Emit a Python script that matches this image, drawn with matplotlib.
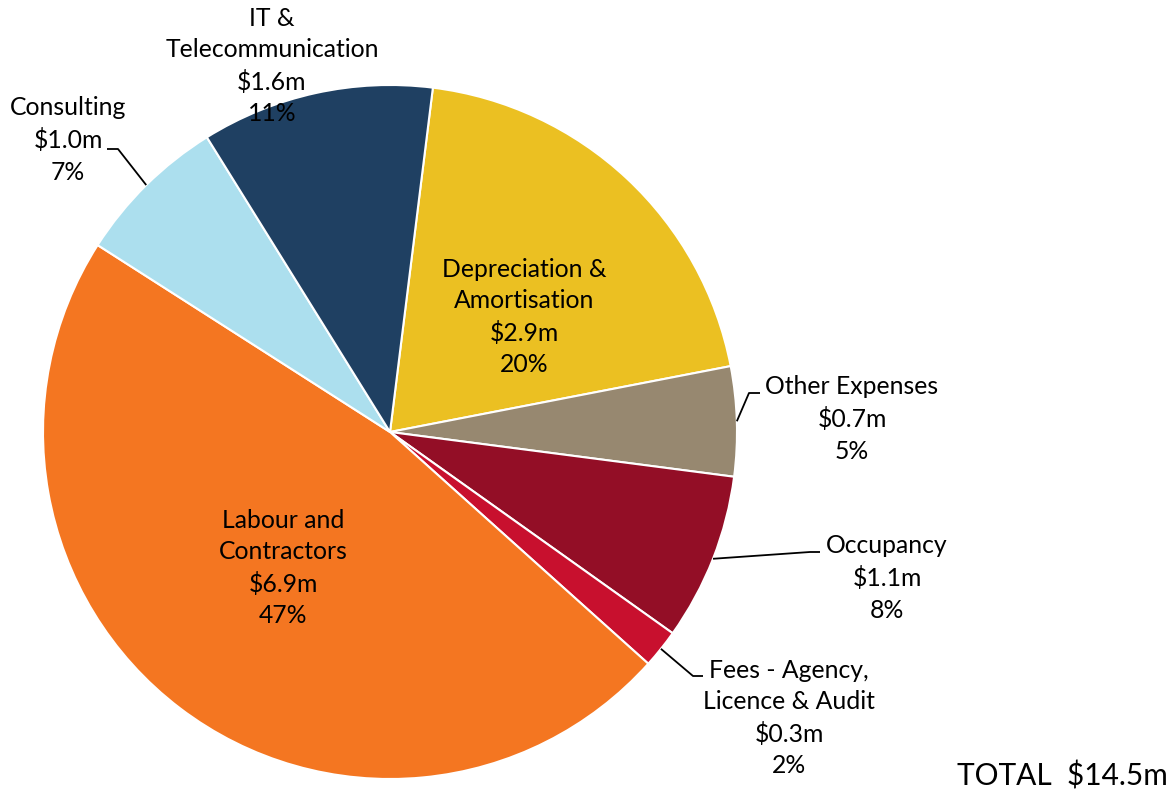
import matplotlib.pyplot as plt
import numpy as np

# expense categories, clockwise from the top
categories = ["Depreciation &\nAmortisation", "Other Expenses", "Occupancy",
              "Fees - Agency,\nLicence & Audit", "Labour and\nContractors",
              "Consulting", "IT &\nTelecommunication"]
values = [2.90, 0.74, 1.13, 0.26, 6.88, 1.03, 1.57]  # $m
amount_labels = ["$2.9m", "$0.7m", "$1.1m", "$0.3m", "$6.9m", "$1.0m", "$1.6m"]
pct_labels = ["20%", "5%", "8%", "2%", "47%", "7%", "11%"]
total_label = "TOTAL  $14.5m"

colors = ["#EBC022", "#978870", "#930E26", "#C8102E", "#F47621",
          "#ACDFEE", "#1F4062"]

W, H = 1172, 792
FONT = "Lato"
FS = 17.8


def py(y):
    # pixel row (from top) -> data y
    return H - y


fig = plt.figure(figsize=(W / 100, H / 100), dpi=100)
ax = fig.add_axes([0, 0, 1, 1])

cx, cy, r = 390, py(432), 347
wedges, _ = ax.pie(values, colors=colors, startangle=82.9, counterclock=False,
                   center=(cx, cy), radius=r, frame=True,
                   wedgeprops=dict(edgecolor="white", linewidth=1.5))
ax.set_xlim(0, W)
ax.set_ylim(0, H)
ax.set_aspect("equal")
ax.axis("off")

# label layout: text centre, and (elbow, line end) for outside labels
layout = [
    ((524, 317), None),
    ((852, 419), ((749, 393), (760, 393))),
    ((887, 578), ((810, 552), (820, 552))),
    ((789, 718), ((693, 676), (703, 676))),
    ((283, 568), None),
    ((68, 140), ((118, 149), (107, 149))),
    ((272, 66), None),
]

for w, cat, amt, pct, (pos, leader) in zip(wedges, categories, amount_labels,
                                           pct_labels, layout):
    ax.text(pos[0], py(pos[1]), f"{cat}\n{amt}\n{pct}", ha="center",
            va="center", fontsize=FS, family=FONT, color="black",
            linespacing=1.44)
    if leader is not None:
        th = np.deg2rad((w.theta1 + w.theta2) / 2)
        ax0 = cx + r * np.cos(th)
        ay0 = cy + r * np.sin(th)
        (ex, ey), (tx, ty) = leader
        ax.plot([ax0, ex, tx], [ay0, py(ey), py(ty)], color="black", lw=1.3,
                solid_capstyle="butt")

ax.text(1168, py(776), total_label, ha="right", va="center", fontsize=21.5,
        family=FONT, color="black")

fig.savefig("out.png", dpi=100)
